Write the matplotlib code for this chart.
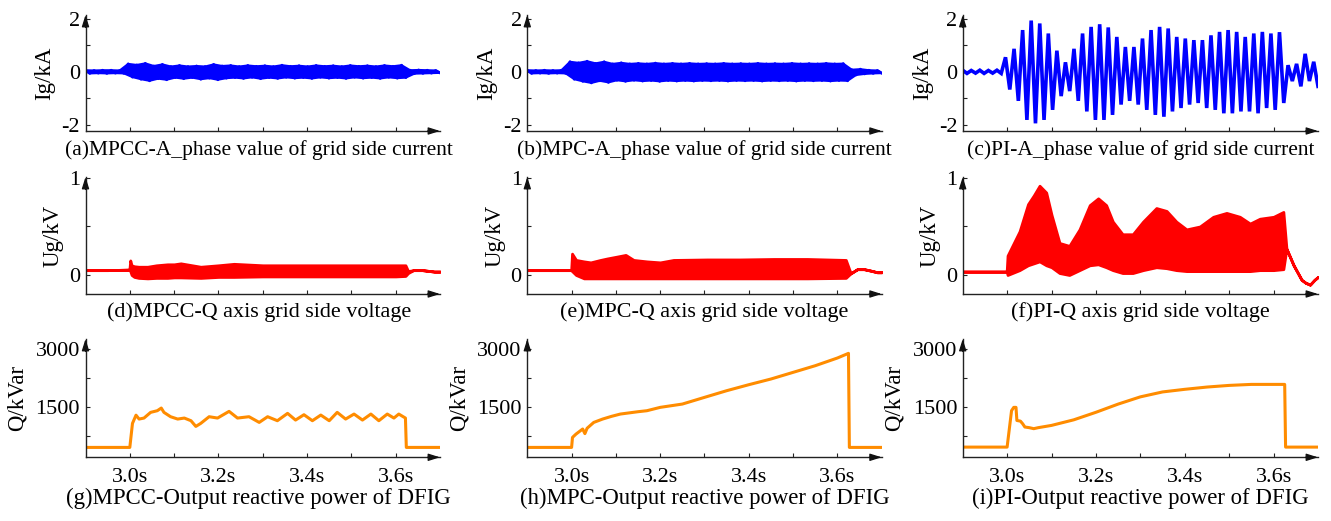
import numpy as np
import matplotlib
matplotlib.use('Agg')
import matplotlib.pyplot as plt

plt.rcParams['font.family'] = ['Liberation Serif', 'DejaVu Serif']
plt.rcParams['axes.unicode_minus'] = False

# ---- grid side current: per-cycle peak / trough values (kA), 42 cycles over 2.9-3.7 s ----
cur_a_up = [0.06, 0.05, 0.06, 0.06, 0.05,
            0.30, 0.26, 0.32, 0.22, 0.28, 0.20, 0.24, 0.20, 0.22, 0.20, 0.28, 0.22,
            0.24, 0.20, 0.24, 0.21, 0.23, 0.20, 0.25, 0.21, 0.23, 0.20, 0.24, 0.21,
            0.23, 0.20, 0.24, 0.21, 0.23, 0.20, 0.24, 0.21, 0.25,
            0.06, 0.07, 0.06, 0.05]
cur_a_lo = [-0.06, -0.05, -0.06, -0.05, -0.06,
            -0.20, -0.28, -0.34, -0.26, -0.30, -0.22, -0.26, -0.22, -0.28, -0.24, -0.30, -0.24,
            -0.22, -0.25, -0.21, -0.26, -0.22, -0.25, -0.21, -0.24, -0.22, -0.25, -0.21, -0.24,
            -0.22, -0.25, -0.21, -0.24, -0.22, -0.25, -0.21, -0.24, -0.22,
            -0.07, -0.06, -0.05, -0.04]

cur_b_up = [0.06, 0.05, 0.06, 0.05, 0.06,
            0.38, 0.34, 0.40, 0.32, 0.38, 0.30, 0.34, 0.30, 0.32, 0.30, 0.33, 0.30,
            0.32, 0.30, 0.32, 0.30, 0.31, 0.30, 0.32, 0.30, 0.31, 0.30, 0.32, 0.30,
            0.31, 0.30, 0.32, 0.30, 0.31, 0.30, 0.32, 0.30, 0.31,
            0.08, 0.10, 0.06, 0.05]
cur_b_lo = [-0.06, -0.05, -0.06, -0.05, -0.06,
            -0.28, -0.36, -0.42, -0.34, -0.40, -0.32, -0.36, -0.32, -0.35, -0.33, -0.36, -0.33,
            -0.35, -0.33, -0.35, -0.33, -0.34, -0.33, -0.35, -0.33, -0.34, -0.33, -0.35, -0.33,
            -0.34, -0.33, -0.35, -0.33, -0.34, -0.33, -0.35, -0.33, -0.34,
            -0.12, -0.08, -0.06, -0.05]

cur_c_up = [0.06, 0.05, 0.06, 0.05, 0.06,
            0.55, 0.87, 1.58, 1.94, 1.83, 1.45, 0.80, 0.36, 0.87, 1.45, 1.70, 1.80,
            1.68, 1.32, 0.94, 0.94, 1.26, 1.58, 1.70, 1.64, 1.32, 1.26, 1.20, 1.20,
            1.38, 1.51, 1.58, 1.51, 1.32, 1.45, 1.51, 1.45, 1.50,
            0.25, 0.30, 0.68, 0.38]
cur_c_lo = [-0.06, -0.05, -0.06, -0.05, -0.06,
            -0.67, -1.10, -1.82, -1.95, -1.82, -1.44, -0.92, -0.73, -1.10, -1.50, -1.82, -1.82,
            -1.63, -1.24, -1.10, -1.24, -1.44, -1.63, -1.70, -1.50, -1.37, -1.24, -1.18, -1.37,
            -1.44, -1.57, -1.57, -1.50, -1.50, -1.57, -1.37, -1.44, -1.18,
            -0.35, -0.55, -0.35, -0.55]

# ---- Q axis grid side voltage: envelope (kV) ----
t_d = [2.9, 2.95, 2.999, 3.001, 3.004, 3.01, 3.02, 3.04, 3.06, 3.085, 3.1, 3.115, 3.16,
       3.2, 3.235, 3.3, 3.35, 3.4, 3.45, 3.5, 3.55, 3.6, 3.622, 3.628, 3.64, 3.66, 3.687, 3.7]
ud_hi = [0.05, 0.05, 0.055, 0.15, 0.10, 0.09, 0.085, 0.085, 0.10, 0.11, 0.11, 0.12, 0.085,
         0.10, 0.115, 0.10, 0.10, 0.10, 0.10, 0.10, 0.10, 0.10, 0.10, 0.04, 0.05, 0.05, 0.035, 0.035]
ud_lo = [0.05, 0.05, 0.055, 0.04, 0.0, -0.02, -0.03, -0.035, -0.03, -0.03, -0.025, -0.025, -0.03,
         -0.02, -0.02, -0.015, -0.015, -0.015, -0.015, -0.015, -0.015, -0.015, -0.01, 0.02, 0.05, 0.05, 0.035, 0.035]

t_e = [2.9, 2.95, 2.999, 3.001, 3.01, 3.028, 3.043, 3.065, 3.08, 3.103, 3.122, 3.14, 3.17,
       3.2, 3.23, 3.306, 3.38, 3.457, 3.532, 3.619, 3.63, 3.645, 3.66, 3.675, 3.69, 3.7]
ue_hi = [0.05, 0.05, 0.05, 0.22, 0.155, 0.14, 0.13, 0.155, 0.17, 0.19, 0.207, 0.155, 0.14,
         0.13, 0.155, 0.16, 0.16, 0.165, 0.165, 0.155, 0.017, 0.06, 0.06, 0.045, 0.028, 0.028]
ue_lo = [0.05, 0.05, 0.05, 0.04, 0.0, -0.035, -0.035, -0.035, -0.035, -0.035, -0.035, -0.035, -0.035,
         -0.035, -0.035, -0.035, -0.035, -0.035, -0.035, -0.03, 0.017, 0.06, 0.06, 0.045, 0.028, 0.028]

t_f = [2.9, 2.95, 2.999, 3.001, 3.028, 3.047, 3.06, 3.073, 3.088, 3.1, 3.118, 3.14, 3.163,
       3.186, 3.205, 3.223, 3.238, 3.26, 3.283, 3.306, 3.336, 3.359, 3.381, 3.404, 3.434,
       3.464, 3.494, 3.524, 3.547, 3.569, 3.6, 3.622, 3.629, 3.645, 3.663, 3.672, 3.682, 3.692, 3.7]
uf_hi = [0.035, 0.035, 0.035, 0.20, 0.45, 0.73, 0.82, 0.92, 0.85, 0.62, 0.33, 0.30, 0.47,
         0.72, 0.79, 0.72, 0.55, 0.42, 0.42, 0.55, 0.69, 0.66, 0.55, 0.47, 0.50,
         0.60, 0.64, 0.60, 0.53, 0.58, 0.60, 0.65, 0.27, 0.10, -0.05, -0.08, -0.10, -0.05, -0.02]
uf_lo = [0.035, 0.035, 0.035, 0.0, 0.05, 0.10, 0.12, 0.14, 0.10, 0.08, 0.02, 0.0, 0.05,
         0.10, 0.11, 0.08, 0.05, 0.02, 0.02, 0.05, 0.08, 0.07, 0.05, 0.04, 0.04,
         0.04, 0.04, 0.04, 0.04, 0.05, 0.05, 0.06, 0.27, 0.10, -0.05, -0.08, -0.10, -0.05, -0.02]

# ---- output reactive power (kVar) ----
t_g = [2.9, 3.0, 3.006, 3.014, 3.021, 3.032, 3.047, 3.062, 3.071, 3.077, 3.092, 3.108, 3.123,
       3.138, 3.149, 3.16, 3.179, 3.198, 3.224, 3.243, 3.269, 3.292, 3.311, 3.333, 3.356,
       3.374, 3.393, 3.412, 3.431, 3.45, 3.468, 3.487, 3.506, 3.525, 3.544, 3.562, 3.581,
       3.596, 3.607, 3.622, 3.624, 3.7]
q_g = [442, 442, 1066, 1280, 1179, 1205, 1353, 1396, 1465, 1353, 1240, 1179, 1205,
       1136, 988, 1066, 1240, 1205, 1379, 1205, 1240, 1092, 1240, 1136, 1327,
       1153, 1292, 1136, 1283, 1136, 1353, 1179, 1309, 1153, 1309, 1136, 1309,
       1205, 1309, 1205, 442, 442]

t_h = [2.9, 3.0, 3.002, 3.01, 3.02, 3.025, 3.03, 3.035, 3.05, 3.07, 3.09, 3.11, 3.15, 3.17,
       3.2, 3.25, 3.3, 3.35, 3.4, 3.45, 3.5, 3.55, 3.6, 3.625, 3.627, 3.7]
q_h = [442, 442, 702, 789, 876, 920, 800, 940, 1092, 1179, 1249, 1309, 1370, 1396,
       1483, 1569, 1743, 1916, 2072, 2220, 2393, 2566, 2766, 2887, 442, 442]

t_i = [2.9, 3.0, 3.01, 3.015, 3.02, 3.022, 3.03, 3.035, 3.04, 3.05, 3.06, 3.07, 3.1, 3.15,
       3.2, 3.25, 3.3, 3.35, 3.4, 3.45, 3.5, 3.55, 3.6, 3.625, 3.627, 3.7]
q_i = [450, 450, 1398, 1483, 1483, 1142, 1125, 1057, 972, 955, 929, 955, 1014, 1159,
       1355, 1568, 1756, 1884, 1952, 2011, 2054, 2080, 2080, 2080, 450, 450]

captions = [
    ['(a)MPCC-A_phase value of grid side current', '(b)MPC-A_phase value of grid side current',
     '(c)PI-A_phase value of grid side current'],
    ['(d)MPCC-Q axis grid side voltage', '(e)MPC-Q axis grid side voltage',
     '(f)PI-Q axis grid side voltage'],
    ['(g)MPCC-Output reactive power of DFIG', '(h)MPC-Output reactive power of DFIG',
     '(i)PI-Output reactive power of DFIG'],
]
ylabels = ['Ig/kA', 'Ug/kV', 'Q/kVar']
x_labels = ['3.0s', '3.2s', '3.4s', '3.6s']

W, H = 1331, 521
cols = [(85.5, 440), (527.3, 881.7), (962.7, 1318)]
rows = [(15, 131), (177, 294), (339, 457.3)]
ylims = [(-2.24, 2.15), (-0.196, 1.01), (185, 3260)]
ymajor = [[-2, 0, 2], [0, 1], [1500, 3000]]
yminor = [[-1, 1], [0.5], [750, 2250]]
label_off = [40.5, 32.5, 68.5]
caption_y = [150, 311.7, 498.3]
caption_fs = [15.5, 15.9, 16.4]

BLUE = '#0000ff'
RED = '#ff0000'
ORANGE = '#ff8c00'
FS_TICK = 16
FS_LAB = 16.5


def zigzag(up, lo):
    n = len(up)
    t = np.linspace(2.9, 3.7, 2 * n)
    y = np.empty(2 * n)
    y[0::2] = up
    y[1::2] = lo
    return t, y


def add_arrows(ax):
    style = dict(arrowstyle='-|>,head_length=0.7,head_width=0.22', color='#111111',
                 lw=0.9, shrinkA=0, shrinkB=0)
    ax.annotate('', xy=(1, 0), xycoords='axes fraction', xytext=(-9, 0),
                textcoords='offset points', arrowprops=style, annotation_clip=False)
    ax.annotate('', xy=(0, 1), xycoords='axes fraction', xytext=(0, -9),
                textcoords='offset points', arrowprops=style, annotation_clip=False)


def main():
    fig = plt.figure(figsize=(W / 100, H / 100), dpi=100)

    for r in range(3):
        for c in range(3):
            left, right = cols[c]
            top, bottom = rows[r]
            ax = fig.add_axes([left / W, 1 - bottom / H, (right - left) / W, (bottom - top) / H])

            if r == 0:
                up, lo = [(cur_a_up, cur_a_lo), (cur_b_up, cur_b_lo), (cur_c_up, cur_c_lo)][c]
                t, y = zigzag(up, lo)
                if c < 2:
                    # dense band: fill between the peak line and the trough line
                    ax.fill(np.r_[t[0::2], t[1::2][::-1]], np.r_[up, lo[::-1]],
                            color=BLUE, lw=1.5)
                    ax.plot(t, y, color=BLUE, lw=2.0)
                else:
                    ax.plot(t, y, color=BLUE, lw=2.6, solid_joinstyle='miter')
            elif r == 1:
                t, hi, lo = [(t_d, ud_hi, ud_lo), (t_e, ue_hi, ue_lo), (t_f, uf_hi, uf_lo)][c]
                ax.fill_between(t, lo, hi, color=RED, lw=2.0, edgecolor=RED)
            else:
                t, q = [(t_g, q_g), (t_h, q_h), (t_i, q_i)][c]
                ax.plot(t, q, color=ORANGE, lw=2.2)

            ax.set_xlim(2.9, 3.7)
            ax.set_ylim(*ylims[r])
            for s in ['top', 'right']:
                ax.spines[s].set_visible(False)
            for s in ['left', 'bottom']:
                ax.spines[s].set_color('#222222')
                ax.spines[s].set_linewidth(1.0)

            ax.set_xticks([3.0, 3.2, 3.4, 3.6])
            ax.set_xticks([3.1, 3.3, 3.5], minor=True)
            if r == 2:
                ax.set_xticklabels(x_labels, fontsize=FS_TICK)
            else:
                ax.set_xticklabels([])
            ax.set_yticks(ymajor[r])
            ax.set_yticks(yminor[r], minor=True)
            ax.set_yticklabels([str(v) for v in ymajor[r]], fontsize=FS_TICK)
            ax.tick_params(which='both', direction='in', length=3, width=0.8,
                           color='#222222')
            ax.tick_params(axis='y', pad=4)
            ax.tick_params(axis='x', pad=8)
            ax.patch.set_alpha(0)

            ax.set_ylabel(ylabels[r], fontsize=FS_LAB, va='center')
            ax.yaxis.set_label_coords(-label_off[r] / (right - left), 0.5)
            add_arrows(ax)

            cx = (left + right) / 2 - (4 if c == 0 else 0)
            fig.text(cx / W, 1 - caption_y[r] / H, captions[r][c],
                     ha='center', va='center', fontsize=caption_fs[r])

    fig.savefig('out.png', dpi=100)


if __name__ == '__main__':
    main()
